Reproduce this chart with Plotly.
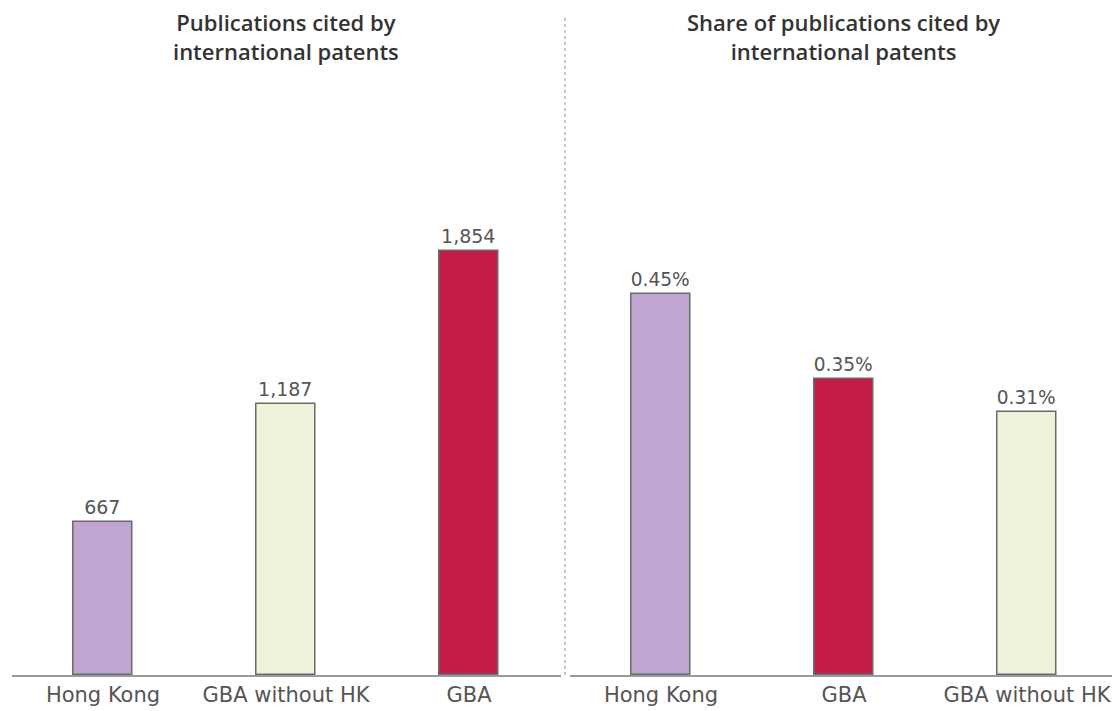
import plotly.graph_objects as go

left_title = "Publications cited by<br>international patents"
right_title = "Share of publications cited by<br>international patents"

left_cats = ["Hong Kong", "GBA without HK", "GBA"]
left_vals = [667, 1187, 1854]
left_colors = ["#BEA6D0", "#F1F2DB", "#C41E48"]

right_cats = ["Hong Kong", "GBA", "GBA without HK"]
right_vals = [0.45, 0.35, 0.31]
right_colors = ["#BEA6D0", "#C41E48", "#F1F2DB"]

OFF = 8  # page body margin
W, H = 1120 - OFF, 711 - OFF
BASE = 675 - OFF           # baseline pixel in figure coords
B = H - BASE
PH = BASE

FONT = "DejaVu Sans"
TFONT = "Open Sans"
TXT = "#555555"
FS = 19
TICKFS = 21


def px(x):
    return (x - OFF) / W


def py(y):
    return 1 - (y - OFF) / PH


fig = go.Figure()
fig.add_trace(go.Bar(
    x=left_cats, y=left_vals, xaxis="x", yaxis="y",
    marker=dict(color=left_colors, line=dict(color="#6b6b6b", width=1.5)),
    width=0.32, texttemplate="%{y:,}", textposition="outside",
    textfont=dict(size=FS, color=TXT, family=FONT), cliponaxis=False,
    hoverinfo="skip", showlegend=False))
fig.add_trace(go.Bar(
    x=right_cats, y=right_vals, xaxis="x2", yaxis="y2",
    marker=dict(color=right_colors, line=dict(color="#6b6b6b", width=1.5)),
    width=0.32, texttemplate="%{y:.2f}%", textposition="outside",
    textfont=dict(size=FS, color=TXT, family=FONT), cliponaxis=False,
    hoverinfo="skip", showlegend=False))

axis_common = dict(showgrid=False, zeroline=False, ticks="", showline=True,
                   linecolor="#9a9a9a", linewidth=1.5,
                   tickfont=dict(size=TICKFS, color=TXT, family=FONT),
                   fixedrange=True)
fig.update_layout(
    width=W, height=H,
    margin=dict(l=0, r=0, t=0, b=B, autoexpand=False),
    paper_bgcolor="white", plot_bgcolor="white",
    font=dict(family=FONT),
    xaxis=dict(domain=[px(11.5), px(560.5)], anchor="y", **axis_common),
    xaxis2=dict(domain=[px(569.5), px(1118.5)], anchor="y2", **axis_common),
    yaxis=dict(domain=[0, 1], range=[0, PH / 0.2287], visible=False, anchor="x"),
    yaxis2=dict(domain=[0, 1], range=[0, PH / 847.0], visible=False, anchor="x2"),
    bargap=0,
)
for title, cx in ((left_title, 286), (right_title, 843)):
    fig.add_annotation(text=title, xref="paper", yref="paper",
                       x=px(cx), y=py(37), xanchor="center", yanchor="middle",
                       showarrow=False,
                       font=dict(size=22, color="#333333", family=TFONT, weight=600),
                       align="center")
fig.add_shape(type="line", xref="paper", yref="paper",
              x0=px(565), x1=px(565), y0=0, y1=py(15),
              line=dict(color="#b0b8c0", width=1.5, dash="dot"))

fig.write_html("out.html")
